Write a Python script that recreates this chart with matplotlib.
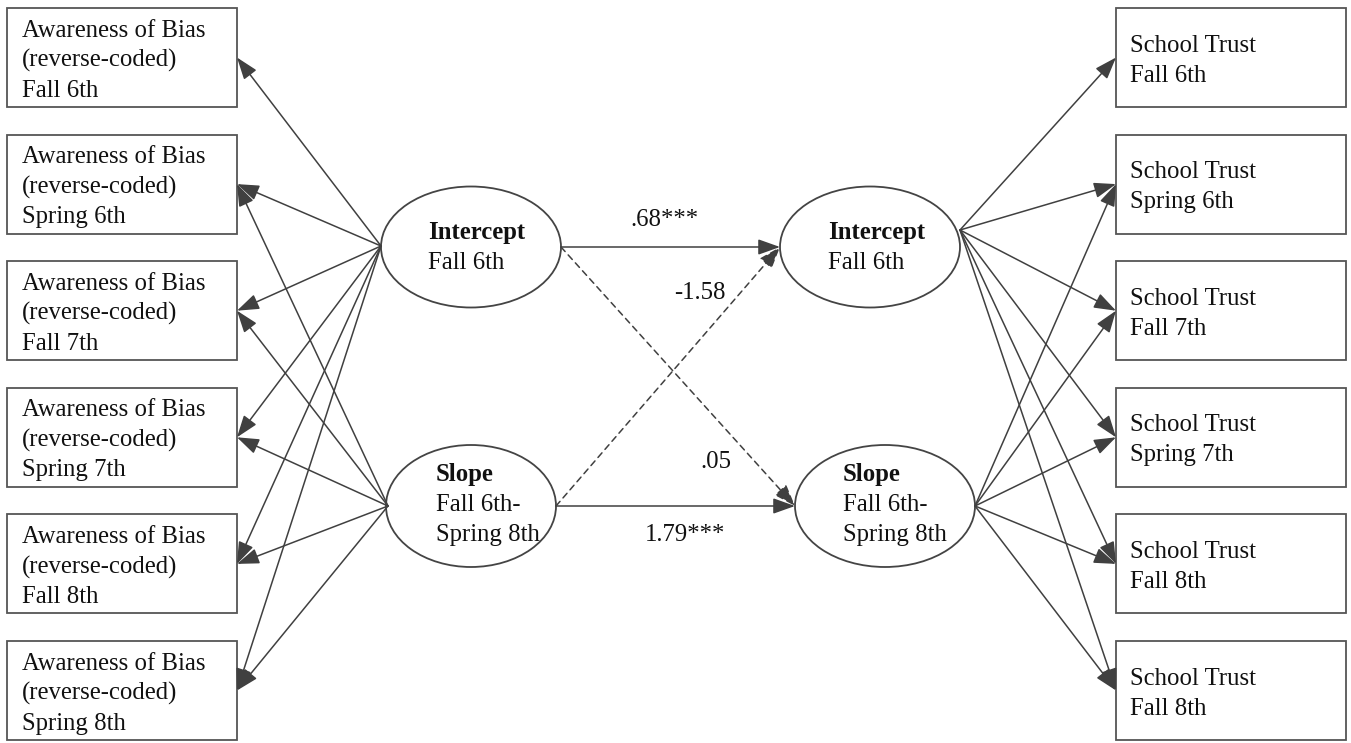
import matplotlib
matplotlib.use("Agg")
import matplotlib.pyplot as plt
from matplotlib.patches import Rectangle, Ellipse, FancyArrowPatch

plt.rcParams['font.family'] = ['Liberation Serif', 'DejaVu Serif']

# 数据
left_title = ["Awareness of Bias", "(reverse-coded)"]
left_waves = ["Fall 6th", "Spring 6th", "Fall 7th", "Spring 7th", "Fall 8th", "Spring 8th"]
right_title = ["School Trust"]
right_waves = ["Fall 6th", "Spring 6th", "Fall 7th", "Spring 7th", "Fall 8th", "Fall 8th"]
factor_names = ["Intercept", "Slope"]
factor_spans = [["Fall 6th"], ["Fall 6th-", "Spring 8th"]]
# 各观测对应的斜率载荷（0 表示无箭头）
slope_loads = [0, 1, 1, 1, 1, 1]
coef_labels = [".68***", "-1.58", ".05", "1.79***"]
coef_sig = [True, False, False, True]

W, H = 1351, 743
fig = plt.figure(figsize=(W / 100, H / 100), dpi=100)
ax = fig.add_axes([0, 0, 1, 1])
ax.set_xlim(0, W)
ax.set_ylim(H, 0)
ax.axis('off')

LINE = '#404040'
FS = 17.8

box_top0, box_step, box_h = 8, 126.6, 99
lbox_x, rbox_x, box_w = 7, 1116, 230


def arrow(p0, p1, ls='-'):
    a = FancyArrowPatch(p0, p1, arrowstyle='-|>,head_length=0.9,head_width=0.32',
                        mutation_scale=15, color=LINE, lw=1.1, linestyle=ls,
                        shrinkA=0, shrinkB=0)
    ax.add_patch(a)


# 左侧观测框
for i, wave in enumerate(left_waves):
    top = box_top0 + i * box_step
    ax.add_patch(Rectangle((lbox_x, top), box_w, box_h, fill=False, ec='#555555', lw=1.3))
    for j, line in enumerate(left_title + [wave]):
        ax.text(lbox_x + 15, top + 28.7 + 30 * j, line, fontsize=FS, va='baseline', ha='left', color='#111111')

# 右侧观测框
for i, wave in enumerate(right_waves):
    top = box_top0 + i * box_step
    ax.add_patch(Rectangle((rbox_x, top), box_w, box_h, fill=False, ec='#555555', lw=1.3))
    for j, line in enumerate(right_title + [wave]):
        ax.text(rbox_x + 14, top + 43.7 + 30 * j, line, fontsize=FS, va='baseline', ha='left', color='#111111')

# 潜变量椭圆
ell = {
    ('L', 0): (471, 247, 180, 121),
    ('L', 1): (471, 506, 170, 122),
    ('R', 0): (870, 247, 180, 121),
    ('R', 1): (885, 506, 180, 122),
}
text_x = {('L', 0): 428, ('L', 1): 436, ('R', 0): 828, ('R', 1): 843}
text_base = {0: 239, 1: 481}
for (side, k), (cx, cy, w, h) in ell.items():
    ax.add_patch(Ellipse((cx, cy), w, h, fill=False, ec='#444444', lw=1.3))
    lines = [factor_names[k]] + factor_spans[k]
    for j, line in enumerate(lines):
        ax.text(text_x[(side, k)], text_base[k] + 30 * j, line, fontsize=FS, va='baseline', ha='left',
                fontweight='bold' if j == 0 else 'normal', color='#111111')

# 载荷箭头
l_src = [(381, 246), (388, 506)]
r_src = [(960, 230), (975, 506)]
for i in range(len(left_waves)):
    cy = box_top0 + i * box_step + box_h / 2
    arrow(l_src[0], (lbox_x + box_w, cy))
    arrow(r_src[0], (rbox_x, cy))
    if slope_loads[i]:
        arrow(l_src[1], (lbox_x + box_w, cy))
        arrow(r_src[1], (rbox_x, cy))

# 结构路径
li_r = (561, 247)
ls_r = (556, 506)
ri_l = (780, 247)
rs_l = (795, 506)
paths = [(li_r, ri_l), (ls_r, ri_l), (li_r, rs_l), (ls_r, rs_l)]
label_pos = [(664, 220), (700, 293), (716, 462), (685, 535)]
for (p0, p1), lab, sig, pos in zip(paths, coef_labels, coef_sig, label_pos):
    arrow(p0, p1, ls='-' if sig else (0, (4, 3)))
    ax.text(pos[0], pos[1], lab, fontsize=FS, ha='center', va='center', color='#111111')

plt.savefig("out.png", dpi=100)
